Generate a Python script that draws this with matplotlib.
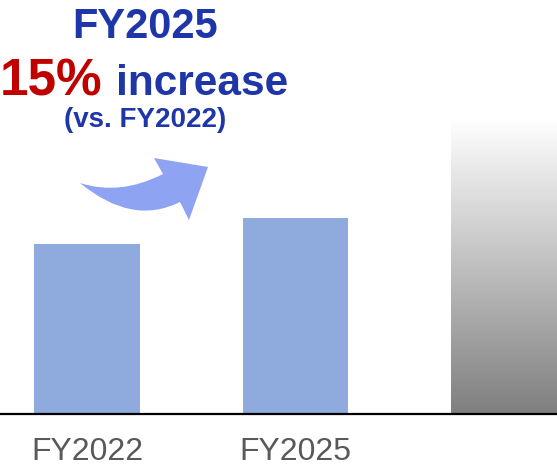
import matplotlib
matplotlib.use("Agg")
import matplotlib.pyplot as plt
import numpy as np
from matplotlib.path import Path
from matplotlib.patches import PathPatch
from matplotlib.colors import LinearSegmentedColormap

plt.rcParams['font.family'] = ['Liberation Sans', 'DejaVu Sans']

categories = ["FY2022", "FY2025"]
values = [100, 115]
target_value = 173

W, H = 557, 470
fig = plt.figure(figsize=(W / 100, H / 100), dpi=100)
ax = fig.add_axes([0, 56 / H, 1, 414 / H])

x = np.arange(len(categories))
bar_w = 0.508
ax.bar(x, values, width=bar_w, color="#8FAADC", zorder=2)

# gradient placeholder bar
gx = len(categories)
grad = np.linspace(0, 1, 256).reshape(-1, 1)
cmap = LinearSegmentedColormap.from_list("g", ["#7f7f7f", "#ffffff"])
ax.imshow(grad, extent=[gx - bar_w / 2, gx + bar_w / 2, 0, target_value],
          origin="lower", aspect="auto", cmap=cmap, zorder=1)

ax.set_xlim(-87 / 208.5, (W - 87) / 208.5)
ax.set_ylim(0, 414 / 1.7)
ax.set_xticks(x)
ax.set_xticklabels(categories, fontsize=23, color="#595959")
ax.tick_params(axis="x", length=0, pad=16.5)
ax.set_yticks([])
for s in ["top", "left", "right"]:
    ax.spines[s].set_visible(False)
ax.spines["bottom"].set_linewidth(1.6)
ax.spines["bottom"].set_color("black")
ax.patch.set_alpha(0)

def fp(px, py):
    return (px / W, 1 - py / H)

# curved arrow (decoration)
verts = [fp(80, 183), fp(120, 196), fp(163, 174), fp(154, 158), fp(208, 167),
         fp(189, 220), fp(180, 202), fp(132, 226), fp(80, 183), fp(80, 183)]
codes = [Path.MOVETO, Path.CURVE3, Path.CURVE3, Path.LINETO, Path.LINETO,
         Path.LINETO, Path.LINETO, Path.CURVE3, Path.CURVE3, Path.CLOSEPOLY]
fig.patches.append(PathPatch(Path(verts, codes), facecolor="#8EA4F2",
                             edgecolor="none", transform=fig.transFigure))

blue = "#1F36A8"
red = "#C00000"
fig.text(145 / W, 1 - 38 / H, "FY2025", fontsize=30, fontweight="bold",
         color=blue, ha="center", va="baseline")
fig.text(0 / W, 1 - 95 / H, "15%", fontsize=37, fontweight="bold",
         color=red, ha="left", va="baseline")
fig.text(116 / W, 1 - 95 / H, "increase", fontsize=30.5, fontweight="bold",
         color=blue, ha="left", va="baseline")
fig.text(145 / W, 1 - 127 / H, "(vs. FY2022)", fontsize=20, fontweight="bold",
         color=blue, ha="center", va="baseline")

fig.savefig("out.png", dpi=100)
